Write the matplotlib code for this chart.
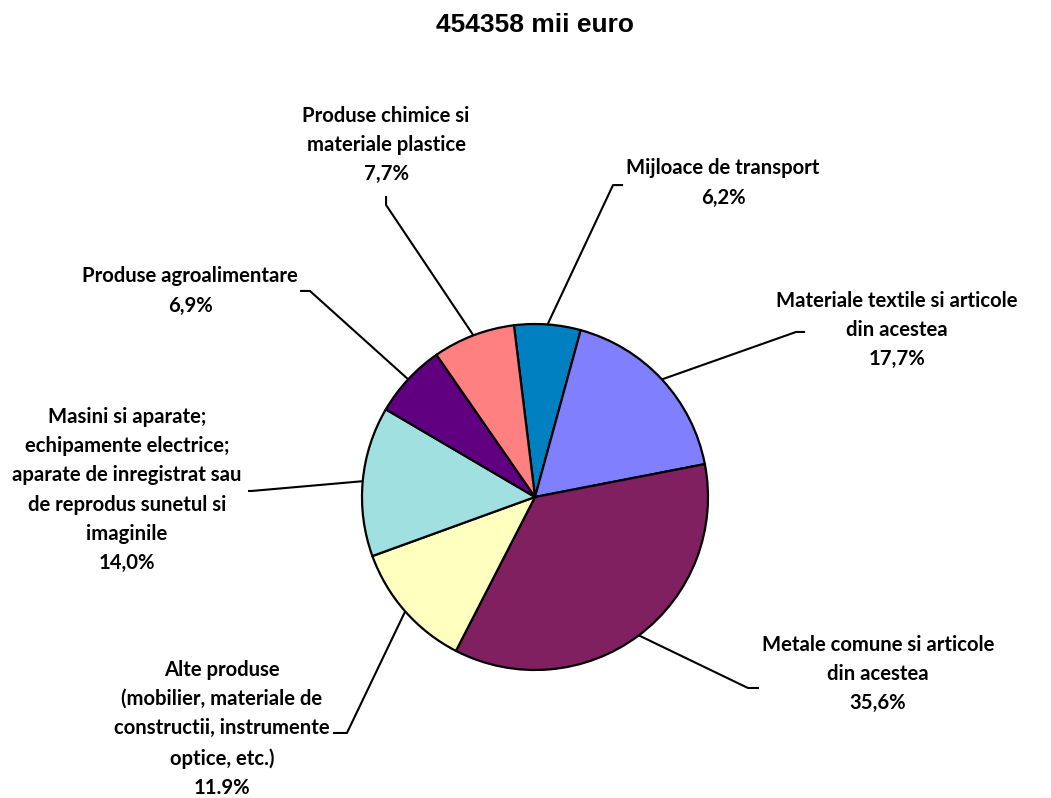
import numpy as np
import matplotlib.pyplot as plt

# date din grafic
title = "454358 mii euro"
categories = [
    "Mijloace de transport",
    "Materiale textile si articole\ndin acestea",
    "Metale comune si articole\ndin acestea",
    "Alte produse\n(mobilier, materiale de\nconstructii, instrumente\noptice, etc.)",
    "Masini si aparate;\nechipamente electrice;\naparate de inregistrat sau\nde reprodus sunetul si\nimaginile",
    "Produse agroalimentare",
    "Produse chimice si\nmateriale plastice",
]
shares = [6.2, 17.7, 35.6, 11.9, 14.0, 6.9, 7.7]
pct_labels = ["6,2%", "17,7%", "35,6%", "11.9%", "14,0%", "6,9%", "7,7%"]
colors = ["#0080C0", "#8080FF", "#802060", "#FFFFC0", "#A0E0E0", "#600080", "#FF8080"]

# pozitii etichete (in raze fata de centrul placintei)
text_pos = [(1.087, 1.815), (2.092, 0.965), (1.983, -1.023), (-1.809, -1.340),
            (-2.358, 0.040), (-1.994, 1.191), (-0.861, 2.035)]
elbows = [(0.451, 1.803), (1.509, 0.954), (1.231, -1.104), (-1.087, -1.364),
          (-1.636, 0.035), (-1.301, 1.191), (-0.861, 1.688)]
ends = [(0.509, 1.803), (1.561, 0.954), (1.295, -1.104), (-1.168, -1.364),
        (-1.659, 0.035), (-1.358, 1.191), (-0.861, 1.740)]

fig = plt.figure(figsize=(10.51, 7.98), dpi=100)
ax = fig.add_axes([0, 0, 1, 1])
R = 173.0

wedges, _ = ax.pie(shares, colors=colors, startangle=97, counterclock=False,
                   radius=1, center=(0, 0),
                   wedgeprops=dict(edgecolor="black", linewidth=1.6))

ax.set_xlim(-535 / R, (1051 - 535) / R)
ax.set_ylim(-(798 - 497) / R, 497 / R)
ax.set_aspect("equal")
ax.axis("off")

for i, w in enumerate(wedges):
    mid = np.deg2rad((w.theta1 + w.theta2) / 2)
    ex, ey = np.cos(mid), np.sin(mid)
    ax.plot([ex, elbows[i][0], ends[i][0]], [ey, elbows[i][1], ends[i][1]],
            color="black", lw=1.5, solid_capstyle="butt")
    ax.text(text_pos[i][0], text_pos[i][1], categories[i] + "\n" + pct_labels[i],
            ha="center", va="center", fontsize=14.6, fontweight="bold",
            family=["Lato", "DejaVu Sans"], linespacing=1.58)

fig.text(0.509, 1 - 25 / 798, title, ha="center", va="center",
         fontsize=19, fontweight="bold", family=["Liberation Sans", "DejaVu Sans"])

fig.savefig("out.png", dpi=100)
